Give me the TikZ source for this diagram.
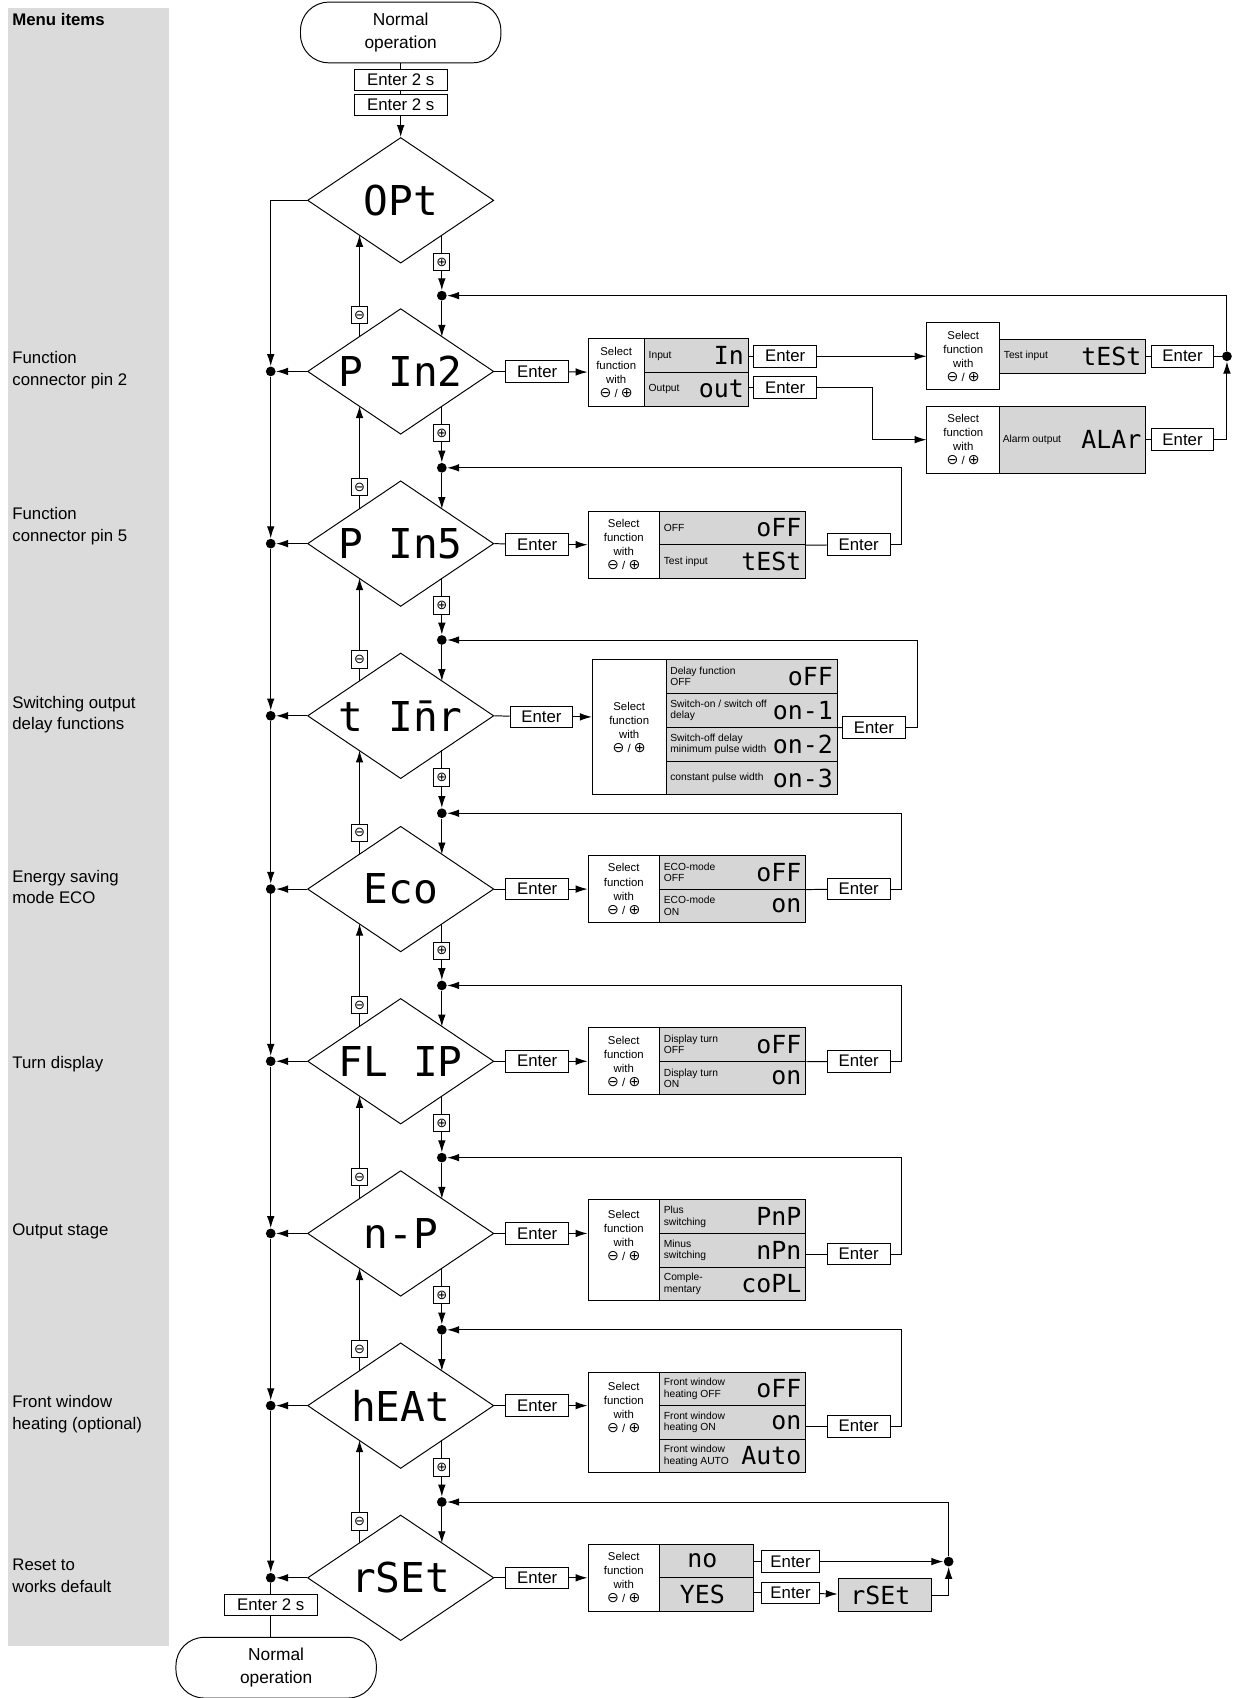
\documentclass[tikz,border=0pt]{standalone}
\usepackage{fontspec}
\setmainfont{Liberation Sans}
\newfontfamily\lcdf{DejaVu Sans Mono}
\newfontfamily\symf{DejaVu Sans}
\usetikzlibrary{shapes.geometric,arrows.meta,calc}
\definecolor{panel}{gray}{0.86}
\definecolor{cellg}{gray}{0.84}
\newcommand\mysym[1]{{\symf\fontsize{13}{13}\selectfont #1}}
\newcommand\selt{Select\\function\\with\\\mysym{⊖} / \mysym{⊕}}
\tikzset{
 x=1pt,y=-1pt,
 every node/.style={inner sep=0pt},
 dia/.style={draw,shape=diamond,aspect=1.48,minimum width=172pt,minimum height=116pt},
 diat/.style={font=\lcdf\fontsize{38}{38}\selectfont},
 term/.style={draw,rounded corners=26pt,minimum width=185pt,minimum height=56pt,align=center,font=\fontsize{16}{21}\selectfont},
 entb/.style={draw,fill=white,minimum width=58pt,minimum height=20pt,font=\fontsize{15.5}{16}\selectfont},
 pmb/.style={draw,fill=white,minimum width=15pt,minimum height=16pt,font=\symf\fontsize{12}{12}\selectfont},
 dot/.style={circle,fill,minimum size=9pt},
 selcell/.style={draw,align=center,font=\fontsize{10.5}{13}\selectfont},
 valcell/.style={draw,fill=cellg,minimum height=31pt},
 lbl/.style={align=left,font=\fontsize{9.5}{10.5}\selectfont,xshift=4pt},
 lcd/.style={font=\lcdf\fontsize{23}{23}\selectfont,xshift=-4pt},
 side/.style={anchor=west,align=left,font=\fontsize{15.5}{20}\selectfont},
 arr/.style={-{Latex[length=11pt,width=7pt]}}
}
\newcommand\vrow[6]{\node[valcell,minimum width=#4] (#1) at (#2,#3) {};
 \node[lbl,anchor=west] at (#1.west) {#5};
 \node[lcd,anchor=east] at (#1.east) {#6};}
\begin{document}
\begin{tikzpicture}[line width=0.9pt]
\useasboundingbox (0,0) rectangle (1145,1568);
\fill[panel] (7,7) rectangle (156,1520);
\node[side,font=\bfseries\fontsize{15.5}{20}\selectfont] (mi) at (11,18) {Menu items};
\node[side] (l1) at (11,342) {Function\\connector pin 2};
\node[side] (l2) at (11,486) {Function\\connector pin 5};
\node[side] (l3) at (11,660) {Switching output\\delay functions};
\node[side] (l4) at (11,819) {Energy saving\\mode ECO};
\node[side] (l5) at (11,983) {Turn display};
\node[side] (l6) at (11,1137) {Output stage};
\node[side] (l7) at (11,1306) {Front window\\heating (optional)};
\node[side] (l8) at (11,1455) {Reset to\\works default};

% top
\node[term] (top) at (370,30) {Normal\\operation};
\node[entb,minimum width=86pt] (e2a) at (370,74) {Enter 2 s};
\node[entb,minimum width=86pt] (e2b) at (370,97) {Enter 2 s};
% diamonds
\foreach \n/\yy/\t in {opt/185/OPt, pin2/343/P In2, pin5/502/P In5, timr/661/t I\={n}r, eco/821/Eco, flip/980/FL IP, np/1139/n-P, heat/1298/hEAt, rset/1457/rSEt}{
  \node[dia] (\n) at (370,\yy) {};
  \node[diat] (t\n) at (370,\yy) {\t};
}
\draw (top) -- (e2a) (e2a) -- (e2b);
\draw[arr] (e2b) -- (opt.north);

% left column
\coordinate (lc0) at (250,185);
\draw (opt.west) -- (lc0);
\foreach \c in {pin2,pin5,timr,eco,flip,np,heat,rset}{
  \node[dot] (ld\c) at ($(\c.center)+(-120,0)$) {};
  \draw[arr] (\c.west) -- (ld\c);
}
\draw[arr] (lc0) -- (ldpin2);
\foreach \a/\b in {pin2/pin5,pin5/timr,timr/eco,eco/flip,flip/np,np/heat,heat/rset}{
  \draw[arr] (ld\a) -- (ld\b);
}
\node[entb,minimum width=86pt] (e2c) at (250,1482) {Enter 2 s};
\node[term] (bot) at (255,1540) {Normal\\operation};
\draw (ldrset) -- (e2c);
\draw (e2c) -- (e2c |- bot.north);

% plus/minus
\foreach \p/\c in {opt/pin2,pin2/pin5,pin5/timr,timr/eco,eco/flip,flip/np,np/heat,heat/rset}{
  \draw[arr] ($(\c.center)+(-38,-32)$) -- ($(\p.center)+(-38,32)$);
  \node[dot] (pd\c) at ($(\c.center)+(38,-70)$) {};
  \draw[arr] ($(\p.center)+(38,32)$) -- (pd\c);
  \draw[arr] (pd\c) -- ($(\c.center)+(38,-32)$);
  \node[pmb] (mb\c) at ($(\c.center)+(-38,-52)$) {⊖};
  \node[pmb] (pb\c) at ($(\p.center)+(38,57)$) {⊕};
}

% ---- Pin2 row
\node[entb] (en1) at (496,343) {Enter};
\draw (pin2.east) -- (en1);
\node[selcell,minimum width=52pt,minimum height=62pt] (s1) at (569,344) {\selt};
\draw[arr] (en1) -- (s1);
\vrow{v1a}{643}{328.5}{96pt}{Input}{In}
\vrow{v1b}{643}{359.5}{96pt}{Output}{out}
\node[entb] (en1a) at (725,329) {Enter};
\node[entb] (en1b) at (725,358) {Enter};
\draw (v1a.east |- en1a) -- (en1a);
\draw (v1b.east |- en1b) -- (en1b);
\node[selcell,minimum width=67pt,minimum height=62pt] (st) at (889.5,329) {\selt};
\vrow{vt}{990.5}{329}{135pt}{Test input}{tESt}
\node[selcell,minimum width=67pt,minimum height=62pt] (sa) at (889.5,406) {\selt};
\node[valcell,minimum width=135pt,minimum height=62pt] (va) at (990.5,406) {};
\node[lbl,anchor=west,xshift=-1pt] at (va.west) {Alarm output};
\node[lcd,anchor=east] at (va.east) {ALAr};
\draw[arr] (en1a) -- (st.west |- en1a);
\draw[arr] (en1b) -- (806,358) |- (sa.west);
\node[entb] (ent) at (1092,329) {Enter};
\node[entb] (ena) at (1092,406) {Enter};
\draw (vt.east) -- (ent);
\draw (va.east) -- (ena);
\node[dot] (rd1) at (1133,329) {};
\draw (ent) -- (rd1);
\draw[arr] (ena) -| (rd1);
\draw[arr] (rd1) -- (1133,273) -- (pdpin2);

% ---- Pin5 row
\node[entb] (en2) at (496,503) {Enter};
\draw (pin5.east) -- (en2);
\node[selcell,minimum width=66pt,minimum height=62pt] (s2) at (576,503) {\selt};
\draw[arr] (en2) -- (s2);
\vrow{v2a}{676.5}{487.5}{135pt}{OFF}{oFF}
\vrow{v2b}{676.5}{518.5}{135pt}{Test input}{tESt}
\node[entb] (en2r) at (793,503) {Enter};
\draw (v2a.south east) -- (en2r);
\draw[arr] (en2r) -- (832,503) |- (pdpin5);

% ---- tImr row
\node[entb] (en3) at (500,662) {Enter};
\draw (timr.east) -- (en3);
\node[selcell,minimum width=68pt,minimum height=125pt] (s3) at (581,671.5) {\selt};
\draw[arr] (en3) -- (s3.west |- en3);
\vrow{v3a}{694}{624.5}{158pt}{Delay function\\OFF}{oFF}
\vrow{v3b}{694}{656}{158pt}{Switch-on / switch off\\delay}{\raisebox{-5pt}{on-1}}
\vrow{v3c}{694}{687.5}{158pt}{Switch-off delay\\minimum pulse width}{on-2}
\vrow{v3d}{694}{718.5}{158pt}{constant pulse width}{on-3}
\node[entb] (en3r) at (807,672) {Enter};
\draw (v3b.south east) -- (en3r);
\draw[arr] (en3r) -- (847,672) |- (pdtimr);

% Eco
\node[entb] (en4) at (496,821) {Enter};
\draw (eco.east) -- (en4);
\node[selcell,minimum width=66pt,minimum height=62pt] (s4) at (576,821) {\selt};
\draw[arr] (en4) -- (s4);
\vrow{v4a}{676.5}{805.5}{135pt}{ECO-mode\\OFF}{oFF}
\vrow{v4b}{676.5}{836.5}{135pt}{ECO-mode\\ON}{on}
\node[entb] (en4r) at (793,821) {Enter};
\draw (v4a.south east) -- (en4r);
\draw[arr] (en4r) -- (832,821) |- (pdeco);

% FLIP
\node[entb] (en5) at (496,980) {Enter};
\draw (flip.east) -- (en5);
\node[selcell,minimum width=66pt,minimum height=62pt] (s5) at (576,980) {\selt};
\draw[arr] (en5) -- (s5);
\vrow{v5a}{676.5}{964.5}{135pt}{Display turn\\OFF}{oFF}
\vrow{v5b}{676.5}{995.5}{135pt}{Display turn\\ON}{on}
\node[entb] (en5r) at (793,980) {Enter};
\draw (v5a.south east) -- (en5r);
\draw[arr] (en5r) -- (832,980) |- (pdflip);

% n-P
\node[entb] (en6) at (496,1139) {Enter};
\draw (np.east) -- (en6);
\node[selcell,minimum width=66pt,minimum height=93pt] (s6) at (576,1154.5) {};
\node[selcell,draw=none] (s6t) at (576,1141) {\selt};
\draw[arr] (en6) -- (s6.west |- en6);
\vrow{v6a}{676.5}{1123.5}{135pt}{Plus\\switching}{PnP}
\vrow{v6b}{676.5}{1154.5}{135pt}{Minus\\switching}{nPn}
\vrow{v6c}{676.5}{1185.5}{135pt}{Comple-\\mentary}{coPL}
\node[entb] (en6r) at (793,1158) {Enter};
\draw (v6b.east |- en6r) -- (en6r);
\draw[arr] (en6r) -- (832,1158) |- (pdnp);

% hEAt
\node[entb] (en7) at (496,1298) {Enter};
\draw (heat.east) -- (en7);
\node[selcell,minimum width=66pt,minimum height=93pt] (s7) at (576,1313.5) {};
\node[selcell,draw=none] (s7t) at (576,1300) {\selt};
\draw[arr] (en7) -- (s7.west |- en7);
\vrow{v7a}{676.5}{1282.5}{135pt}{Front window\\heating OFF}{oFF}
\vrow{v7b}{676.5}{1313.5}{135pt}{Front window\\heating ON}{on}
\vrow{v7c}{676.5}{1344.5}{135pt}{Front window\\heating AUTO}{Auto}
\node[entb] (en7r) at (793,1317) {Enter};
\draw (v7b.east |- en7r) -- (en7r);
\draw[arr] (en7r) -- (832,1317) |- (pdheat);

% rSEt
\node[entb] (en8) at (496,1457) {Enter};
\draw (rset.east) -- (en8);
\node[selcell,minimum width=66pt,minimum height=62pt] (s8) at (576,1457) {\selt};
\draw[arr] (en8) -- (s8);
\node[valcell,minimum width=87pt] (v8a) at (652.5,1441.5) {};
\node[lcd,xshift=0pt] at (v8a) {no};
\node[valcell,minimum width=87pt] (v8b) at (652.5,1472.5) {};
\node[lcd,xshift=0pt] at (v8b) {YES};
\node[entb,minimum width=53pt] (en8a) at (730,1442) {Enter};
\node[entb,minimum width=53pt] (en8b) at (730,1471) {Enter};
\draw (v8a.east |- en8a) -- (en8a);
\draw (v8b.east |- en8b) -- (en8b);
\node[valcell,minimum width=86pt,minimum height=30pt] (rsb) at (817,1473) {};
\node[lcd,xshift=0pt] at (rsb) {rSEt};
\node[dot] (rd8) at (876,1442) {};
\draw[arr] (en8a) -- (rd8);
\draw[arr] (en8b) -- (rsb);
\draw[arr] (rsb) -| (rd8);
\draw[arr] (rd8) -- (876,1389) |- (pdrset);
\end{tikzpicture}
\end{document}
